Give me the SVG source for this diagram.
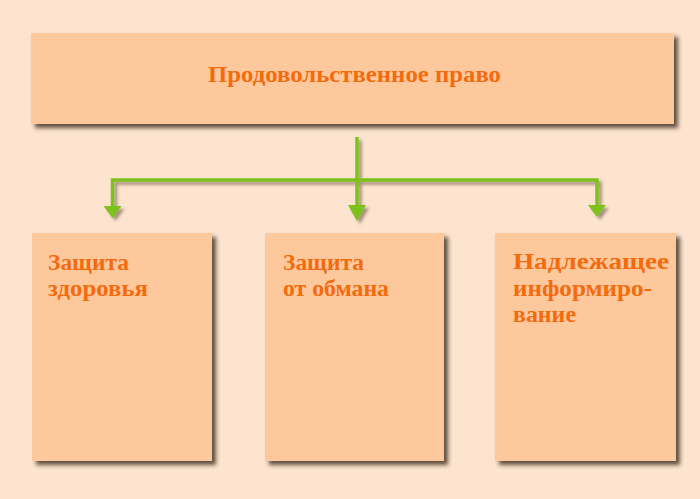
<svg xmlns="http://www.w3.org/2000/svg" width="700" height="499" viewBox="0 0 700 499">
<defs>
<filter id="sh" x="-10%" y="-10%" width="125%" height="130%">
<feGaussianBlur in="SourceAlpha" stdDeviation="2"/>
<feOffset dx="4" dy="4" result="b"/>
<feFlood flood-color="#3a2a1a" flood-opacity="0.8"/>
<feComposite in2="b" operator="in" result="s"/>
<feMerge><feMergeNode in="s"/><feMergeNode in="SourceGraphic"/></feMerge>
</filter>
<filter id="lsh" x="-20%" y="-20%" width="140%" height="140%">
<feGaussianBlur in="SourceAlpha" stdDeviation="1.5"/>
<feOffset dx="3" dy="3" result="b"/>
<feFlood flood-color="#3a2a1a" flood-opacity="0.45"/>
<feComposite in2="b" operator="in" result="s"/>
<feMerge><feMergeNode in="s"/><feMergeNode in="SourceGraphic"/></feMerge>
</filter>
</defs>
<style>
.box{fill:#fec89d;filter:url(#sh)}
.t{font-family:"Liberation Serif","DejaVu Serif",serif;font-weight:bold;fill:#f46b0e}
.ln{stroke:#7dc21b;stroke-width:3.5;fill:none}
.hd{fill:#7dc21b}
</style>
<rect width="700" height="499" fill="#fde4cf"/>
<g id="connectors" filter="url(#lsh)">
<path class="ln" d="M357 137V208"/>
<path class="ln" d="M112.5 215V180H597V208"/>
<polygon class="hd" points="348,205 366,205 357,221"/>
<polygon class="hd" points="103.5,206 121.5,206 112.5,218"/>
<polygon class="hd" points="588,205 606,205 597,217"/>
</g>
<g id="n_top">
<rect class="box" x="31" y="33" width="643" height="91"/>
<text class="t" x="208" y="82" font-size="23" textLength="293" lengthAdjust="spacingAndGlyphs">Продовольственное право</text>
</g>
<g id="n_health">
<rect class="box" x="32" y="233" width="180" height="228"/>
<text class="t" x="48" y="270" font-size="22.5" textLength="81" lengthAdjust="spacingAndGlyphs">Защита</text>
<text class="t" x="48" y="296" font-size="22.5" textLength="100" lengthAdjust="spacingAndGlyphs">здоровья</text>
</g>
<g id="n_fraud">
<rect class="box" x="265" y="233" width="179" height="228"/>
<text class="t" x="283" y="270" font-size="22.5" textLength="81" lengthAdjust="spacingAndGlyphs">Защита</text>
<text class="t" x="283" y="296" font-size="22.5" textLength="106" lengthAdjust="spacingAndGlyphs">от обмана</text>
</g>
<g id="n_info">
<rect class="box" x="495" y="233" width="181" height="228"/>
<text class="t" x="513" y="269" font-size="22.5" textLength="156" lengthAdjust="spacingAndGlyphs">Надлежащее</text>
<text class="t" x="513" y="296" font-size="22.5" textLength="139" lengthAdjust="spacingAndGlyphs">информиро-</text>
<text class="t" x="513" y="322" font-size="22.5" textLength="63" lengthAdjust="spacingAndGlyphs">вание</text>
</g>
</svg>
